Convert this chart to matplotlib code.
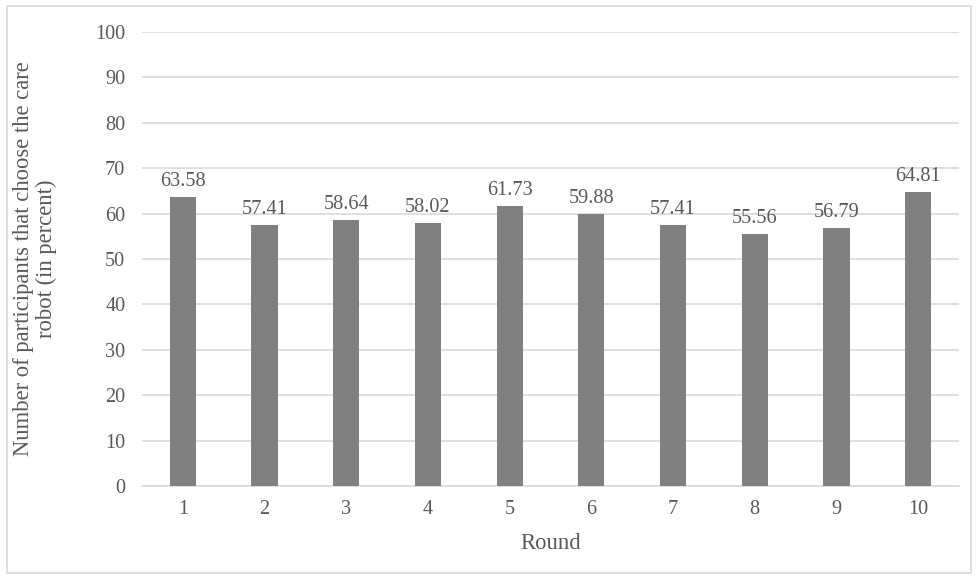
import matplotlib.pyplot as plt
from matplotlib.patches import Rectangle

rounds = ['1', '2', '3', '4', '5', '6', '7', '8', '9', '10']
percent_care_robot = [63.58, 57.41, 58.64, 58.02, 61.73, 59.88, 57.41, 55.56, 56.79, 64.81]

plt.rcParams['font.family'] = ['Liberation Serif', 'DejaVu Serif']
text_col = '#595959'

fig = plt.figure(figsize=(9.77, 5.79), dpi=100)
ax = fig.add_axes([0.1453, 0.1606, 0.8363, 0.7841])

x = range(len(rounds))
bars = ax.bar(x, percent_care_robot, width=0.32, color='#808080', zorder=3)
for b, v in zip(bars, percent_care_robot):
    ax.text(b.get_x() + b.get_width() / 2, v + 1.3, f'{v:.2f}', ha='center', va='bottom',
            fontsize=14.6, color=text_col)

ax.set_xlim(-0.5, len(rounds) - 0.5)
ax.set_ylim(0, 100)
ax.set_yticks(range(0, 101, 10))
ax.set_xticks(list(x))
ax.set_xticklabels(rounds)
ax.grid(axis='y', color='#d9d9d9', linewidth=1.2, zorder=0)
ax.tick_params(length=0, labelsize=14.6, labelcolor=text_col, pad=10)
ax.tick_params(axis='y', pad=12)
for s in ['top', 'right', 'left']:
    ax.spines[s].set_visible(False)
ax.spines['bottom'].set_color('#d9d9d9')
ax.spines['bottom'].set_linewidth(1.2)

ax.set_xlabel('Round', fontsize=16.3, color=text_col, labelpad=10)
ax.set_ylabel('Number of participants that choose the care\nrobot (in percent)',
              fontsize=16.3, color=text_col, linespacing=1.1)
ax.yaxis.set_label_coords(-0.104, 0.5)

# light border around the whole chart
fig.patches.append(Rectangle((7 / 977, 6 / 579), 1 - 13 / 977, 1 - 12 / 579,
                             transform=fig.transFigure, fill=False,
                             edgecolor='#d9d9d9', linewidth=1.2))

fig.savefig('out.png', dpi=100)
